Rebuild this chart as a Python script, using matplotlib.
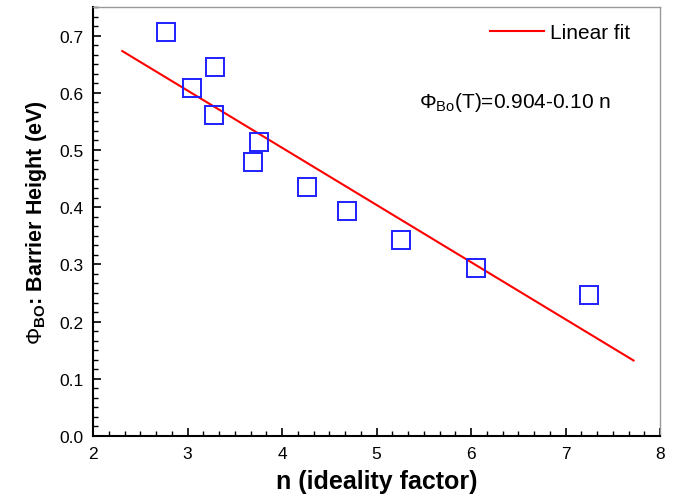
import matplotlib
matplotlib.use("Agg")
import matplotlib.pyplot as plt
import numpy as np
from matplotlib.ticker import AutoMinorLocator, MultipleLocator

plt.rcParams["font.family"] = ["Liberation Sans", "DejaVu Sans"]
plt.rcParams["mathtext.fontset"] = "custom"
plt.rcParams["mathtext.rm"] = "Liberation Sans"
plt.rcParams["mathtext.bf"] = "Liberation Sans:bold"

# measured data: ideality factor vs barrier height
n_ideality = [2.77, 3.05, 3.29, 3.28, 3.76, 3.69, 4.26, 4.69, 5.26, 6.05, 7.25]
phi_bo = [0.707, 0.608, 0.645, 0.561, 0.514, 0.479, 0.436, 0.394, 0.343, 0.294, 0.246]

# linear fit: phi = a + b*n
fit_a = 0.904
fit_b = -0.10
fit_range = [2.31, 7.72]

fig = plt.figure(figsize=(6.87, 5.02), dpi=100)
ax = fig.add_axes([0.1354, 0.1295, 0.8253, 0.8545])

fit_x = np.array(fit_range)
ax.plot(fit_x, fit_a + fit_b * fit_x, color="red", lw=1.5, label="Linear fit")
ax.plot(n_ideality, phi_bo, ls="none", marker="s", ms=13, mfc="none",
        mec="#1f1fff", mew=1.4)

ax.set_xlim(2, 8)
ax.set_ylim(0, 0.75)
ax.xaxis.set_major_locator(MultipleLocator(1))
ax.yaxis.set_major_locator(MultipleLocator(0.1))
ax.xaxis.set_minor_locator(AutoMinorLocator(6))
ax.yaxis.set_minor_locator(AutoMinorLocator(6))
ax.tick_params(which="both", direction="in", top=False, right=False,
               labelsize=12.5, pad=7)
ax.tick_params(which="major", length=6, width=1.2)
ax.tick_params(which="minor", length=3.5, width=1.0)
ax.yaxis.set_major_formatter(matplotlib.ticker.FormatStrFormatter("%.1f"))

for side in ("left", "bottom"):
    ax.spines[side].set_linewidth(1.5)
for side in ("top", "right"):
    ax.spines[side].set_color("#999999")
    ax.spines[side].set_linewidth(1.0)

ax.set_xlabel("n (ideality factor)", fontsize=18, fontweight="bold", labelpad=6)
ax.set_ylabel(r"$\Phi_{\mathbf{BO}}$: Barrier Height (eV)", fontsize=15.5,
              fontweight="bold", labelpad=7)

ax.legend(loc="upper right", bbox_to_anchor=(0.970, 0.991), frameon=False,
          fontsize=15, handlelength=2.6, handletextpad=0.3, borderaxespad=0.2)
ax.text(0.575, 0.768, r"$\Phi_{\mathrm{Bo}}$(T)=0.904-0.10 n", transform=ax.transAxes,
        fontsize=15)

fig.savefig("out.png", dpi=100)
